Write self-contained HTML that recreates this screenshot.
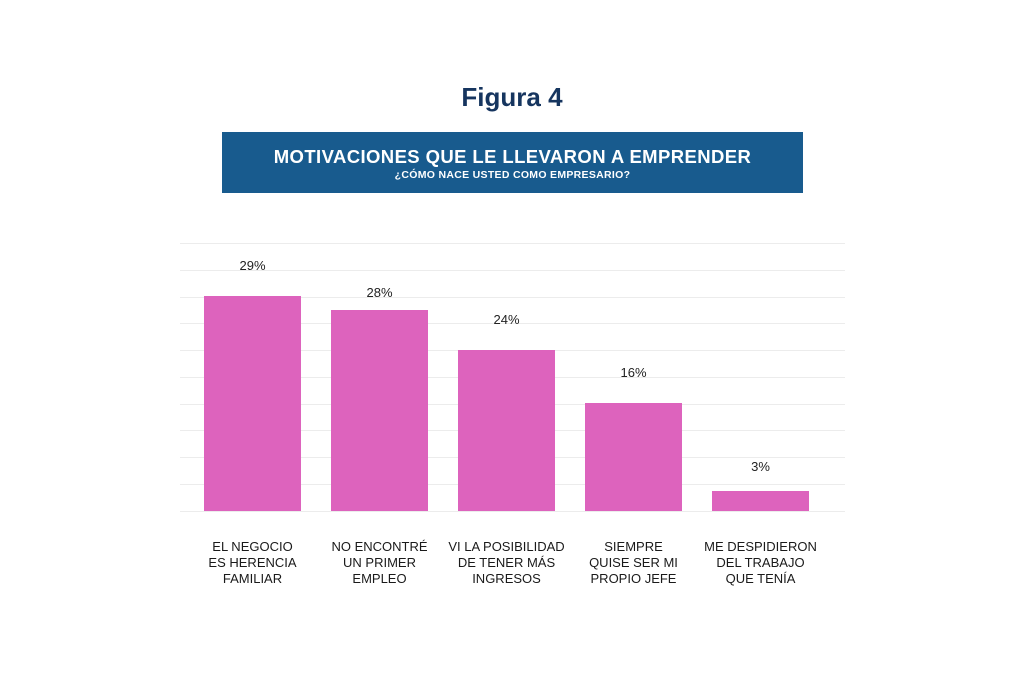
<!DOCTYPE html>
<html><head><meta charset="utf-8"><style>
body{margin:0;width:1024px;height:683px;background:#fff;font-family:"Liberation Sans",sans-serif;position:relative;overflow:hidden}
.a{position:absolute}
.g{position:absolute;left:180px;width:665px;height:1px;background:#ececec}
.b{position:absolute;background:#dd63bd;width:97px}
.v{position:absolute;width:97px;text-align:center;font-size:13px;color:#222}
.l{position:absolute;width:127px;text-align:center;font-size:13px;line-height:16px;color:#1a1a1a;top:539px}
</style></head><body>
<div class="a" style="left:0;width:1024px;top:82px;text-align:center;font-size:26px;font-weight:bold;color:#16355f">Figura 4</div>
<div class="a" style="left:222px;top:132px;width:581px;height:61px;background:#185b8e;color:#fff;text-align:center">
<div style="font-size:18.5px;font-weight:bold;margin-top:14px;letter-spacing:0.4px">MOTIVACIONES QUE LE LLEVARON A EMPRENDER</div>
<div style="font-size:10.5px;font-weight:bold;margin-top:1px;letter-spacing:0.3px">¿CÓMO NACE USTED COMO EMPRESARIO?</div></div>
<div class="g" style="top:243px"></div><div class="g" style="top:270px"></div><div class="g" style="top:297px"></div><div class="g" style="top:323px"></div><div class="g" style="top:350px"></div><div class="g" style="top:377px"></div><div class="g" style="top:404px"></div><div class="g" style="top:430px"></div><div class="g" style="top:457px"></div><div class="g" style="top:484px"></div><div class="g" style="top:511px"></div>
<div class="b" style="left:204px;top:296px;height:215px"></div>
<div class="b" style="left:331px;top:310px;height:201px"></div>
<div class="b" style="left:458px;top:350px;height:161px"></div>
<div class="b" style="left:585px;top:403px;height:108px"></div>
<div class="b" style="left:712px;top:491px;height:20px"></div>
<div class="v" style="left:204px;top:258px">29%</div>
<div class="v" style="left:331px;top:285px">28%</div>
<div class="v" style="left:458px;top:312px">24%</div>
<div class="v" style="left:585px;top:365px">16%</div>
<div class="v" style="left:712px;top:459px">3%</div>
<div class="l" style="left:189px">EL NEGOCIO<br>ES HERENCIA<br>FAMILIAR</div>
<div class="l" style="left:316px">NO ENCONTRÉ<br>UN PRIMER<br>EMPLEO</div>
<div class="l" style="left:443px">VI LA POSIBILIDAD<br>DE TENER MÁS<br>INGRESOS</div>
<div class="l" style="left:570px">SIEMPRE<br>QUISE SER MI<br>PROPIO JEFE</div>
<div class="l" style="left:697px">ME DESPIDIERON<br>DEL TRABAJO<br>QUE TENÍA</div>
</body></html>
